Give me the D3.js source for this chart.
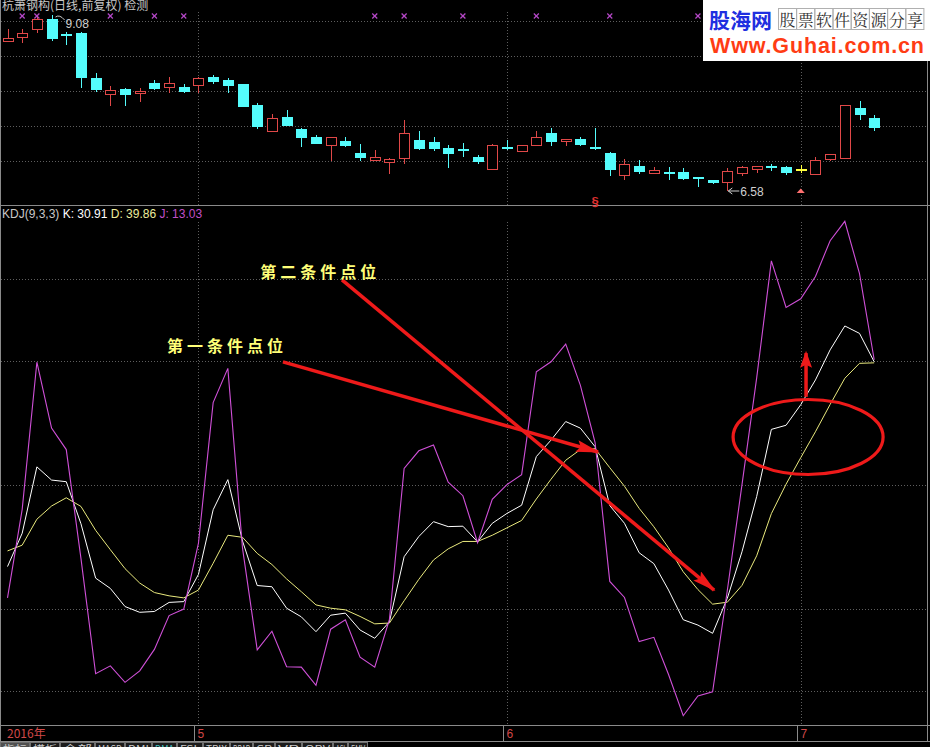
<!DOCTYPE html>
<html><head><meta charset="utf-8">
<script src="https://cdn.jsdelivr.net/npm/d3@7"></script>
<style>html,body{margin:0;padding:0;background:#000;overflow:hidden}svg{display:block}</style>
</head><body>
<svg id="chart" width="930" height="747"></svg>
<script>
// ---------- data ----------
const dates = ["2016-04-13","04-14","04-15","04-18","04-19","04-20","04-21","04-22","04-25","04-26","04-27","04-28","04-29",
 "05-03","05-04","05-05","05-06","05-09","05-10","05-11","05-12","05-13","05-16","05-17","05-18","05-19","05-20","05-23","05-24","05-25","05-26","05-27","05-30","05-31",
 "06-01","06-02","06-03","06-06","06-07","06-08","06-13","06-14","06-15","06-16","06-17","06-20","06-21","06-22","06-23","06-24","06-27","06-28","06-29","06-30",
 "07-01","07-04","07-05","07-06","07-07","07-08"];
const openP  = [8.72,8.76,8.89,9.03,8.81,8.82,8.18,7.96,8.03,7.97,8.12,8.05,8.06,8.08,8.20,8.16,8.10,7.80,7.42,7.63,7.46,7.35,7.23,7.29,7.12,7.03,7.00,7.05,7.30,7.28,7.19,7.17,7.06,6.89,7.20,7.15,7.22,7.40,7.29,7.32,7.20,7.12,6.80,6.94,6.84,6.85,6.85,6.78,6.74,6.71,6.83,6.89,6.94,6.92,6.89,6.82,7.03,7.05,7.76,7.62];
const highP  = [8.88,8.88,9.07,9.08,8.84,8.84,8.25,8.07,8.04,8.05,8.15,8.20,8.10,8.20,8.23,8.18,8.10,7.83,7.67,7.73,7.47,7.38,7.34,7.34,7.25,7.16,7.05,7.59,7.43,7.34,7.23,7.26,7.09,7.25,7.30,7.24,7.43,7.47,7.32,7.34,7.47,7.13,7.03,7.02,6.92,6.92,6.90,6.78,6.74,6.90,6.93,6.93,6.97,6.94,6.95,7.07,7.10,7.80,7.86,7.66];
const lowP   = [8.72,8.68,8.83,8.71,8.65,8.04,7.98,7.79,7.79,7.84,8.01,7.97,7.97,7.97,8.10,7.97,7.78,7.46,7.42,7.51,7.20,7.26,7.00,7.20,7.01,7.01,6.82,6.96,7.16,7.15,6.90,7.07,6.96,6.88,7.16,7.15,7.22,7.22,7.22,7.22,7.16,6.80,6.73,6.82,6.83,6.74,6.74,6.64,6.68,6.58,6.80,6.83,6.87,6.81,6.83,6.82,7.00,7.03,7.59,7.43];
const closeP = [8.76,8.82,9.03,8.76,8.80,8.19,8.02,8.01,7.96,8.00,8.05,8.11,8.01,8.18,8.15,8.09,7.79,7.50,7.61,7.51,7.34,7.27,7.34,7.24,7.07,7.07,7.04,7.40,7.19,7.19,7.12,7.16,7.01,7.23,7.19,7.23,7.34,7.29,7.32,7.25,7.19,6.89,6.96,6.87,6.88,6.84,6.76,6.77,6.71,6.86,6.92,6.93,6.93,6.85,6.87,7.02,7.10,7.80,7.67,7.49];
const kVals = [30.2,38.3,54.4,51.2,50.8,40.6,27.4,24.9,20.5,19.1,19.3,21.5,21.7,28.3,44.0,51.3,36.4,25.6,25.3,20.1,18.0,14.4,18.4,18.9,14.8,12.8,16.8,32.6,37.5,41.1,39.9,40.0,36.2,40.7,43.1,45.1,56.9,60.9,65.4,63.8,59.3,45.0,40.7,33.55,30.91,24.5,17.3,16.0,14.0,22.5,33.8,47.2,63.5,64.5,69.5,75.5,82.8,88.6,86.8,79.9];
const dVals = [34.0,35.4,41.7,44.9,46.9,44.8,39.0,34.3,29.7,26.2,23.9,23.1,22.6,24.5,31.0,37.8,37.3,33.4,30.7,27.2,24.1,20.9,20.1,19.7,18.1,16.3,16.5,21.9,27.1,31.8,34.5,36.3,36.3,37.8,39.6,41.4,46.6,51.4,56.0,58.6,58.8,54.2,49.7,44.33,39.86,34.74,28.93,24.62,21.08,21.55,25.64,32.82,43.05,50.2,56.64,62.93,69.55,75.9,79.53,79.65];
const jVals = [22.6,44.1,79.8,63.8,58.6,32.2,4.2,6.1,2.1,4.9,10.1,18.3,19.9,35.9,70.0,78.3,34.6,10.0,14.5,5.9,5.8,1.4,15.0,17.3,8.2,5.8,17.4,54.0,58.3,59.7,50.7,47.4,36.0,46.5,50.1,52.5,77.5,79.9,84.2,74.2,60.3,26.6,22.7,12.0,13.03,4.0,-6.0,-1.2,-0.2,24.4,50.1,76.0,104.4,93.1,95.2,100.6,109.3,114.0,101.3,80.4];
const highlightIdx = [54];
const markIdx = [1,2,7,10,12,25,27,31,36,41,47];
const priceGrid = [7.0,7.5,8.0,8.5,9.0];
const kdjGrid = [0,20,50,80,100];
const monthIdx = [0,13,34,54];
const monthLabels = ["2016年","5","6","7"];
const tabLabels = ["指标","模板","全部","MACD","DMI","DMA","FSL","TRIX","BRAR","CR","VR","OBV","ASI","EMV"];

// ---------- scales ----------
const W = 930, H = 747;
const svg = d3.select("#chart");
const x = d3.scaleLinear().domain([0, dates.length - 1]).range([7.5, 874.2]);
const yP = d3.scaleLinear().domain([6.58, 9.08]).range([191, 15]);
const yK = d3.scaleLinear().domain([0, 100]).range([691, 279]);
const RED = "#e04848", CYAN = "#54fcfc";
const numFont = "'Liberation Sans', Arial, sans-serif";
const cjkFont = "'Noto Sans CJK SC', sans-serif";

// ---------- frame ----------
svg.append("rect").attr("width", W).attr("height", H).attr("fill", "#000");
const frame = svg.append("g").attr("stroke", "#8a8a8a").attr("stroke-width", 1).attr("shape-rendering", "crispEdges");
frame.append("line").attr("x1", 0).attr("x2", W).attr("y1", 205.5).attr("y2", 205.5);
frame.append("line").attr("x1", 0).attr("x2", W).attr("y1", 725.5).attr("y2", 725.5);
frame.append("line").attr("x1", 0).attr("x2", W).attr("y1", 741.5).attr("y2", 741.5);
frame.append("line").attr("x1", 0.5).attr("x2", 0.5).attr("y1", 0).attr("y2", 741);
frame.append("line").attr("x1", 927.5).attr("x2", 927.5).attr("y1", 0).attr("y2", 741);

// grids (dotted)
const grid = svg.append("g").attr("stroke", "#5e5e5e").attr("stroke-dasharray", "1,2").attr("shape-rendering", "crispEdges");
grid.selectAll(".pg").data(priceGrid).join("line")
  .attr("x1", 1).attr("x2", 927).attr("y1", d => Math.round(yP(d)) + 0.5).attr("y2", d => Math.round(yP(d)) + 0.5);
grid.selectAll(".kg").data(kdjGrid).join("line")
  .attr("x1", 1).attr("x2", 927).attr("y1", d => Math.round(yK(d)) + 0.5).attr("y2", d => Math.round(yK(d)) + 0.5);
grid.selectAll(".vg1").data(monthIdx.slice(1)).join("line")
  .attr("x1", d => Math.round(x(d)) + 0.5).attr("x2", d => Math.round(x(d)) + 0.5).attr("y1", 12).attr("y2", 205);
grid.selectAll(".vg2").data(monthIdx.slice(1)).join("line")
  .attr("x1", d => Math.round(x(d)) + 0.5).attr("x2", d => Math.round(x(d)) + 0.5).attr("y1", 222).attr("y2", 725);

// ---------- candles ----------
const cg = svg.append("g").attr("shape-rendering", "crispEdges");
const idx = d3.range(dates.length);
const colorOf = i => highlightIdx.includes(i) ? "#ffff40" : (closeP[i] > openP[i] ? RED : CYAN);
cg.selectAll(".wick").data(idx).join("line")
  .attr("x1", i => Math.round(x(i)) + 0.5).attr("x2", i => Math.round(x(i)) + 0.5)
  .attr("y1", i => yP(highP[i])).attr("y2", i => yP(lowP[i]))
  .attr("stroke", colorOf);
cg.selectAll(".body").data(idx).join("rect")
  .attr("x", i => Math.round(x(i)) - 4.5)
  .attr("width", 10)
  .attr("y", i => Math.round(yP(Math.max(openP[i], closeP[i]))) + 0.5)
  .attr("height", i => Math.max(1, Math.round(Math.abs(yP(openP[i]) - yP(closeP[i])))))
  .attr("fill", i => closeP[i] > openP[i] && !highlightIdx.includes(i) ? "#000" : colorOf(i))
  .attr("stroke", colorOf);

// top marks
const mg = svg.append("g").attr("stroke", "#b648c8").attr("stroke-width", 1.2);
markIdx.forEach(i => {
  const cx = x(i), cy = 16;
  mg.append("line").attr("x1", cx - 2.5).attr("x2", cx + 2.5).attr("y1", cy - 2.5).attr("y2", cy + 2.5);
  mg.append("line").attr("x1", cx - 2.5).attr("x2", cx + 2.5).attr("y1", cy + 2.5).attr("y2", cy - 2.5);
});

// high / low labels
const hiI = d3.maxIndex(highP), loI = d3.minIndex(lowP);
svg.append("path").attr("d", `M${x(hiI)+4},${yP(highP[hiI])+2} q4,-3 9,3`).attr("stroke", "#c8c8c8").attr("fill", "none");
svg.append("text").attr("x", x(hiI) + 14).attr("y", yP(highP[hiI]) + 13).text(highP[hiI].toFixed(2))
  .attr("fill", "#d0d0d0").attr("font-family", numFont).attr("font-size", 12);
svg.append("path").attr("d", `M${x(loI)+1},${yP(lowP[loI])} h11 M${x(loI)+1},${yP(lowP[loI])} l4,-3 M${x(loI)+1},${yP(lowP[loI])} l4,3`)
  .attr("stroke", "#d0d0d0").attr("fill", "none");
svg.append("text").attr("x", x(loI) + 13).attr("y", yP(lowP[loI]) + 5).text(lowP[loI].toFixed(2))
  .attr("fill", "#d0d0d0").attr("font-family", numFont).attr("font-size", 12);

// signal glyphs
svg.append("text").attr("x", x(40)).attr("y", 206).attr("text-anchor", "middle").text("§")
  .attr("fill", "#e03030").attr("font-family", numFont).attr("font-size", 13).attr("font-weight", "bold");
svg.append("path").attr("d", `M${x(54)-4},193 L${x(54)},188.5 L${x(54)+4},193 Z`).attr("fill", "#ff7070");

// title
svg.append("text").attr("x", 2).attr("y", 10).text("杭萧钢构(日线,前复权) 检测")
  .attr("fill", "#c8c8c8").attr("font-family", cjkFont).attr("font-size", 12);

// ---------- KDJ ----------
const kdjText = svg.append("text").attr("x", 2).attr("y", 218).attr("font-family", numFont).attr("font-size", 12);
kdjText.append("tspan").text("KDJ(9,3,3)  ").attr("fill", "#c8c8c8");
kdjText.append("tspan").text("K: 30.91  ").attr("fill", "#ffffff");
kdjText.append("tspan").text("D: 39.86  ").attr("fill", "#ecec9c");
kdjText.append("tspan").text("J: 13.03").attr("fill", "#c050c8");

const line = arr => d3.line().x((d, i) => x(i)).y(d => yK(d))(arr);
svg.append("path").attr("d", line(dVals)).attr("stroke", "#eaea7e").attr("fill", "none").attr("stroke-width", 1);
svg.append("path").attr("d", line(kVals)).attr("stroke", "#ffffff").attr("fill", "none").attr("stroke-width", 1);
svg.append("path").attr("d", line(jVals)).attr("stroke", "#d050d8").attr("fill", "none").attr("stroke-width", 1.1);

// ---------- annotations ----------
const ARED = "#ee1a1a";
const defs = svg.append("defs");
defs.append("marker").attr("id", "ah").attr("viewBox", "0 0 24 12").attr("refX", 22).attr("refY", 6)
  .attr("markerWidth", 24).attr("markerHeight", 12).attr("markerUnits", "userSpaceOnUse").attr("orient", "auto")
  .append("path").attr("d", "M0,0 L24,6 L0,12 L4,6 Z").attr("fill", ARED);

const arrows = [
  {from: [18.75, 79.9], to: [40.2, 58.0]},
  {from: [22.77, 99.8], to: [48.1, 24.5]}
];
arrows.forEach(a => {
  svg.append("line").attr("x1", x(a.from[0])).attr("y1", yK(a.from[1]))
    .attr("x2", x(a.to[0])).attr("y2", yK(a.to[1]))
    .attr("stroke", ARED).attr("stroke-width", 3.5).attr("marker-end", "url(#ah)");
});
// up arrow
svg.append("line").attr("x1", x(54.36)).attr("x2", x(54.36)).attr("y1", yK(71.4)).attr("y2", yK(82.5) + 2)
  .attr("stroke", ARED).attr("stroke-width", 3.5);
svg.append("path").attr("d", `M${x(54.36)},${yK(82.6)} l-6,17 l6,-3 l6,3 Z`).attr("fill", ARED);
// ellipse
const ell = {cx: 54.5, cy: 61.65, rx: 75, ry: 37.5};
svg.append("ellipse").attr("cx", x(ell.cx)).attr("cy", yK(ell.cy)).attr("rx", ell.rx).attr("ry", ell.ry)
  .attr("fill", "none").attr("stroke", ARED).attr("stroke-width", 3.2);

const labels = [
  {text: "第二条件点位", i: 17.2, v: 100.2},
  {text: "第一条件点位", i: 10.86, v: 82.3}
];
svg.selectAll(".lab").data(labels).join("text")
  .attr("x", d => x(d.i)).attr("y", d => yK(d.v)).text(d => d.text)
  .attr("fill", "#ffff78").attr("font-family", cjkFont).attr("font-size", 16).attr("font-weight", "bold")
  .attr("letter-spacing", 4);

// ---------- bottom axis ----------
const ax = svg.append("g");
monthIdx.forEach((m, k) => {
  const sx = k === 0 ? 0 : Math.round(x(m)) - 3.5;
  if (k > 0) ax.append("line").attr("x1", sx).attr("x2", sx).attr("y1", 726).attr("y2", 741).attr("stroke", "#8a8a8a").attr("shape-rendering", "crispEdges");
  ax.append("text").attr("x", k === 0 ? 7 : sx + 3).attr("y", 738).text(monthLabels[k])
    .attr("fill", "#d04848").attr("font-family", k === 0 ? cjkFont : numFont).attr("font-size", 12);
});

// tabs row (cut off at the bottom edge, as in the screenshot)
let tx = 0;
const tabW = [30, 30, 35, 30, 27, 25, 26, 27, 23, 22, 27, 31, 15, 20];
tabLabels.forEach((t, k) => {
  const w = tabW[k];
  ax.append("rect").attr("x", tx + 0.5).attr("y", 742.5).attr("width", w - 1).attr("height", 8)
    .attr("fill", k === 0 ? "#505050" : "#1c1c1c").attr("stroke", "#707070");
  ax.append("text").attr("x", tx + 3).attr("y", 753).text(t).attr("fill", k === 5 ? "#40c0c0" : "#c8c8c8")
    .attr("font-family", cjkFont).attr("font-size", 10)
    .attr("textLength", w - 6).attr("lengthAdjust", "spacingAndGlyphs");
  tx += w;
});

// ---------- logo ----------
const logo = svg.append("g");
logo.append("rect").attr("x", 703).attr("y", 0).attr("width", 227).attr("height", 61).attr("fill", "#ffffff");
logo.append("text").attr("x", 709).attr("y", 28).text("股海网").attr("fill", "#1f2fe0")
  .attr("font-family", cjkFont).attr("font-size", 21).attr("font-weight", "bold");
const cells = "股票软件资源分享".split("");
cells.forEach((c, k) => {
  const cx0 = 778 + k * 18.2;
  logo.append("rect").attr("x", cx0 + 0.5).attr("y", 8.5).attr("width", 18).attr("height", 21)
    .attr("fill", "none").attr("stroke", "#b0b0b0");
  logo.append("text").attr("x", cx0 + 9.5).attr("y", 26).attr("text-anchor", "middle").text(c)
    .attr("fill", "#303030").attr("font-family", "'Noto Serif CJK SC','Noto Sans CJK SC',serif").attr("font-size", 16);
});
logo.append("text").attr("x", 710).attr("y", 53).text("Www.Guhai.com.cn").attr("fill", "#ff3c14")
  .attr("font-family", numFont).attr("font-size", 21.5).attr("font-weight", "bold").attr("textLength", 214);
</script>
</body></html>
